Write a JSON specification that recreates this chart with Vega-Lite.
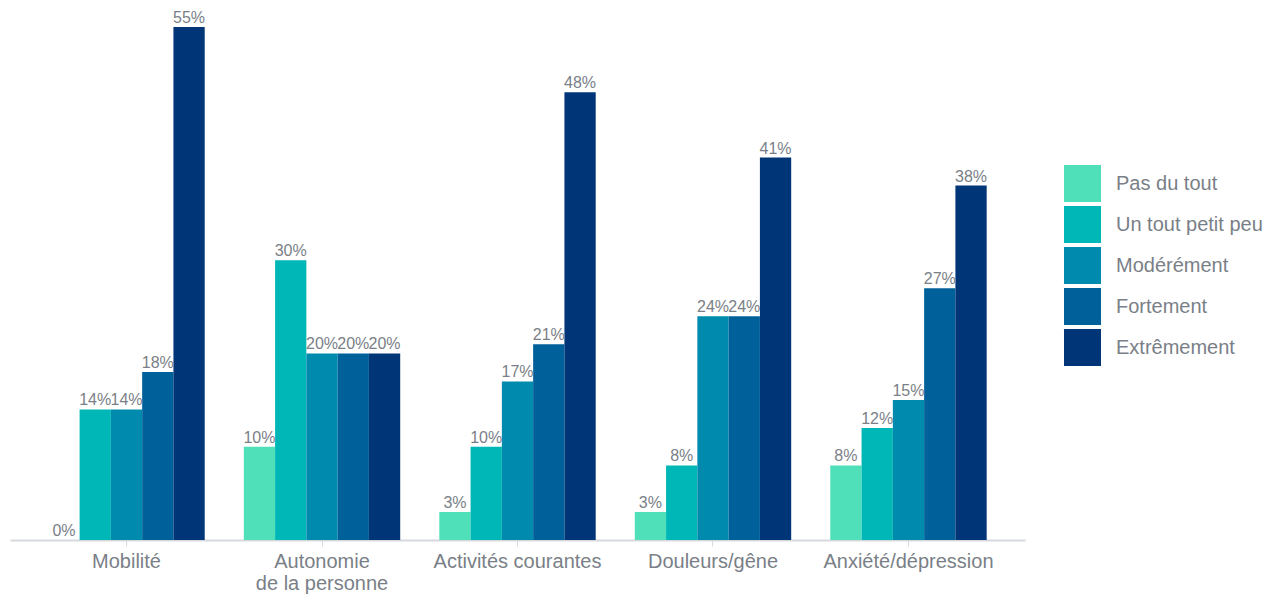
{
  "$schema": "https://vega.github.io/schema/vega-lite/v6.json",
  "autosize": {"type": "none"},
  "padding": {"left": 10, "top": 27, "right": 248, "bottom": 54},
  "width": 1015,
  "height": 513,
  "background": "white",
  "config": {
    "view": {"stroke": null},
    "font": "Liberation Sans"
  },
  "data": {
    "values": [
      {"dim": "Mobilité", "level": "Pas du tout", "pct": 0},
      {"dim": "Mobilité", "level": "Un tout petit peu", "pct": 0.14},
      {"dim": "Mobilité", "level": "Modérément", "pct": 0.14},
      {"dim": "Mobilité", "level": "Fortement", "pct": 0.18},
      {"dim": "Mobilité", "level": "Extrêmement", "pct": 0.55},
      {"dim": "Autonomie de la personne", "level": "Pas du tout", "pct": 0.10},
      {"dim": "Autonomie de la personne", "level": "Un tout petit peu", "pct": 0.30},
      {"dim": "Autonomie de la personne", "level": "Modérément", "pct": 0.20},
      {"dim": "Autonomie de la personne", "level": "Fortement", "pct": 0.20},
      {"dim": "Autonomie de la personne", "level": "Extrêmement", "pct": 0.20},
      {"dim": "Activités courantes", "level": "Pas du tout", "pct": 0.03},
      {"dim": "Activités courantes", "level": "Un tout petit peu", "pct": 0.10},
      {"dim": "Activités courantes", "level": "Modérément", "pct": 0.17},
      {"dim": "Activités courantes", "level": "Fortement", "pct": 0.21},
      {"dim": "Activités courantes", "level": "Extrêmement", "pct": 0.48},
      {"dim": "Douleurs/gêne", "level": "Pas du tout", "pct": 0.03},
      {"dim": "Douleurs/gêne", "level": "Un tout petit peu", "pct": 0.08},
      {"dim": "Douleurs/gêne", "level": "Modérément", "pct": 0.24},
      {"dim": "Douleurs/gêne", "level": "Fortement", "pct": 0.24},
      {"dim": "Douleurs/gêne", "level": "Extrêmement", "pct": 0.41},
      {"dim": "Anxiété/dépression", "level": "Pas du tout", "pct": 0.08},
      {"dim": "Anxiété/dépression", "level": "Un tout petit peu", "pct": 0.12},
      {"dim": "Anxiété/dépression", "level": "Modérément", "pct": 0.15},
      {"dim": "Anxiété/dépression", "level": "Fortement", "pct": 0.27},
      {"dim": "Anxiété/dépression", "level": "Extrêmement", "pct": 0.38}
    ]
  },
  "encoding": {
    "x": {
      "field": "dim",
      "type": "nominal",
      "sort": ["Mobilité", "Autonomie de la personne", "Activités courantes", "Douleurs/gêne", "Anxiété/dépression"],
      "scale": {"paddingInner": 0.2, "paddingOuter": 0.196},
      "axis": {
        "title": null,
        "labelAngle": 0,
        "labelFontSize": 20,
        "labelColor": "#7a7f87",
        "labelPadding": 5,
        "labelLimit": 400,
        "labelLineHeight": 22,
        "labelExpr": "datum.value == 'Autonomie de la personne' ? ['Autonomie', 'de la personne'] : datum.label",
        "domainColor": "#d5d9de",
        "domainWidth": 2,
        "tickColor": "#d5d9de",
        "tickSize": 6,
        "grid": false
      }
    },
    "xOffset": {
      "field": "level",
      "type": "nominal",
      "sort": ["Pas du tout", "Un tout petit peu", "Modérément", "Fortement", "Extrêmement"],
      "scale": {"paddingInner": 0, "paddingOuter": 0}
    },
    "y": {
      "field": "pct",
      "type": "quantitative",
      "scale": {"domain": [0, 0.55], "nice": false},
      "axis": null
    }
  },
  "layer": [
    {
      "mark": {"type": "bar"},
      "encoding": {
        "color": {
          "field": "level",
          "type": "nominal",
          "sort": ["Pas du tout", "Un tout petit peu", "Modérément", "Fortement", "Extrêmement"],
          "scale": {
            "domain": ["Pas du tout", "Un tout petit peu", "Modérément", "Fortement", "Extrêmement"],
            "range": ["#50e0b9", "#00b7b7", "#008aad", "#00609a", "#003677"]
          },
          "legend": {
            "title": null,
            "orient": "none",
            "legendX": 1053,
            "legendY": 137,
            "symbolType": "square",
            "symbolSize": 1444,
            "symbolStrokeColor": "#ffffff",
            "symbolStrokeWidth": 1,
            "symbolOpacity": 1,
            "rowPadding": -4,
            "labelFontSize": 20,
            "labelColor": "#7a7f87",
            "labelOffset": 14,
            "labelLimit": 300
          }
        }
      }
    },
    {
      "mark": {"type": "text", "baseline": "bottom", "dy": -1, "fontSize": 16, "color": "#7a7f87"},
      "encoding": {
        "text": {"field": "pct", "type": "quantitative", "format": ".0%"},
        "detail": {"field": "level"}
      }
    }
  ]
}
